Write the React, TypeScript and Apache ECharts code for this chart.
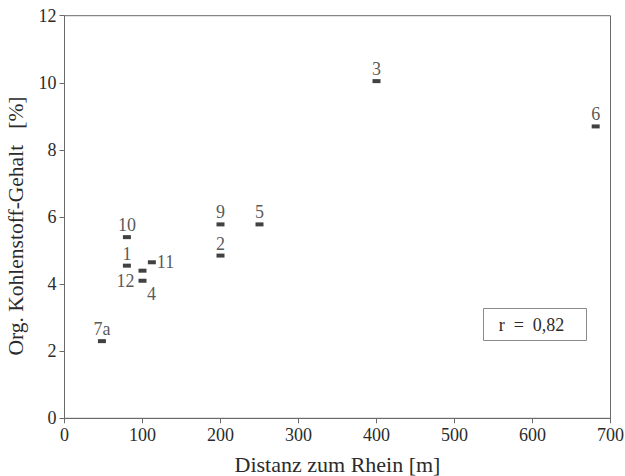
import React, { useEffect, useRef } from "react";
import * as echarts from "echarts";

// Data
const pointNames = ["7a", "10", "1", "12", "4", "11", "9", "2", "5", "3", "6"];
const distance = [48, 80, 80, 100, 100, 112, 200, 200, 250, 400, 681];
const carbon = [2.3, 5.4, 4.55, 4.4, 4.1, 4.65, 5.78, 4.85, 5.78, 10.05, 8.7];
const xTicks = [0, 100, 200, 300, 400, 500, 600, 700];
const yTicks = [0, 2, 4, 6, 8, 10, 12];
const correlationText = "r\u2002=\u20020,82";

const FONT = "Liberation Serif";
const TEXT = "#2b2b2b";
const AXIS = "#6a6a6a";

// label placement per point name (style only)
const labelPlacement: Record<string, any> = {
  "11": { position: "right", distance: 1 },
  "12": { position: "left", distance: 4, offset: [0, 10] },
  "4": { position: "bottom", distance: 0, offset: [9, 2] },
};

export default function App() {
  const ref = useRef<HTMLDivElement>(null);
  useEffect(() => {
    if (!ref.current) return;
    const chart = echarts.init(ref.current, null, { renderer: "svg" });
    const data = pointNames.map((n, i) => {
      const p = labelPlacement[n] || { position: "top", distance: 1 };
      return {
        name: n,
        value: [distance[i], carbon[i]],
        label: { ...p },
      };
    });
    chart.setOption({
      animation: false,
      backgroundColor: "#fff",
      textStyle: { fontFamily: FONT },
      grid: {
        left: 64.5,
        right: 14.5,
        top: 15.7,
        bottom: 57.7,
        containLabel: false,
        outerBoundsMode: "none",
        show: true,
        borderColor: AXIS,
        borderWidth: 1,
        backgroundColor: "transparent",
      },
      xAxis: {
        type: "value",
        min: xTicks[0],
        max: xTicks[xTicks.length - 1],
        interval: 100,
        name: "Distanz zum Rhein [m]",
        nameLocation: "middle",
        nameGap: 35,
        nameTextStyle: { fontFamily: FONT, fontSize: 22, color: TEXT },
        axisLine: { show: true, lineStyle: { color: AXIS, width: 1 } },
        axisTick: { show: true, inside: false, length: 5, lineStyle: { color: AXIS } },
        axisLabel: { fontFamily: FONT, fontSize: 18, color: TEXT, margin: 8 },
        splitLine: { show: false },
      },
      yAxis: {
        type: "value",
        min: yTicks[0],
        max: yTicks[yTicks.length - 1],
        interval: 2,
        name: "Org. Kohlenstoff-Gehalt\u00a0\u00a0 [%]",
        nameLocation: "middle",
        nameGap: 38,
        nameRotate: 90,
        nameTextStyle: { fontFamily: FONT, fontSize: 21.5, color: TEXT, padding: [0, 18, 0, 0] },
        axisLine: { show: true, lineStyle: { color: AXIS, width: 1 } },
        axisTick: { show: true, inside: false, length: 5, lineStyle: { color: AXIS } },
        axisLabel: { fontFamily: FONT, fontSize: 18, color: TEXT, margin: 8 },
        splitLine: { show: false },
      },
      series: [
        {
          type: "scatter",
          symbol: "rect",
          symbolSize: [8, 4],
          itemStyle: { color: "#111" },
          label: {
            show: true,
            formatter: (p: any) => p.name,
            fontFamily: FONT,
            fontSize: 18,
            color: TEXT,
          },
          data,
        },
      ],
      graphic: [
        {
          type: "group",
          left: 483,
          top: 308,
          children: [
            {
              type: "rect",
              shape: { x: 0, y: 0, width: 103, height: 32 },
              style: { fill: "#fff", stroke: "#8a8a8a", lineWidth: 1 },
            },
            {
              type: "text",
              x: 48,
              y: 16,
              style: {
                text: correlationText,
                fontFamily: FONT,
                fontSize: 18,
                fill: TEXT,
                align: "center",
                verticalAlign: "middle",
              },
            },
          ],
        },
      ],
    });
    return () => chart.dispose();
  }, []);
  return <div ref={ref} style={{ width: 625, height: 476, position: "absolute", left: 0, top: 0 }} />;
}
